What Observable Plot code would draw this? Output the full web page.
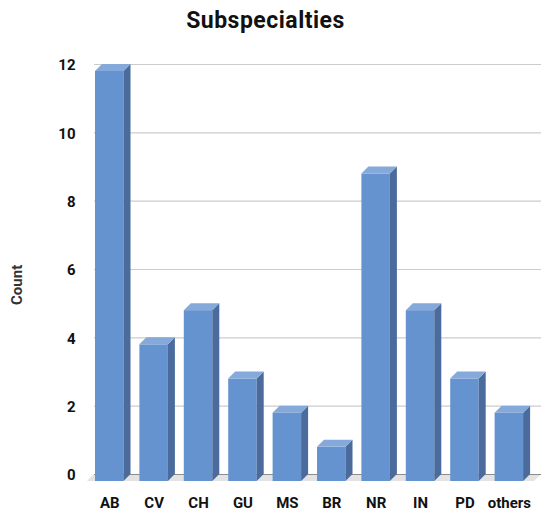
<!DOCTYPE html>
<html><head><meta charset="utf-8">
<script src="https://cdn.jsdelivr.net/npm/d3@7"></script>
<script src="https://cdn.jsdelivr.net/npm/@observablehq/plot@0.6"></script>
<style>
body{margin:0;background:#fff;font-family:Roboto,sans-serif;}
#title{height:40px;line-height:42px;width:531px;text-align:center;font-weight:bold;font-size:23px;letter-spacing:0.5px;color:#111;}
</style></head><body>
<div id="title">Subspecialties</div>
<div id="chart"></div>
<script>
const categories = ["AB","CV","CH","GU","MS","BR","NR","IN","PD","others"];
const counts = [12,4,5,3,2,1,9,5,3,2];
const yTicks = [0,2,4,6,8,10,12];

const W = 541, H = 474, mL = 87, mR = 0, mT = 24, mB = 40;
const step = 44.4;                 // px per category
const firstBarPx = 95;             // front-left edge of first bar
const xDomain = [-(firstBarPx - mL) / step, (W - mR - firstBarPx) / step];
const pxPerY = (H - mT - mB) / 12;
const bw = 28.5 / step;            // bar front width (x units)
const ddx = 7 / step;              // depth offset in x units
const ddy = 7 / pxPerY;            // depth offset in y units

const bars = categories.map((c, i) => ({c, v: counts[i], x1: i, x2: i + bw, i}));
const sides = bars.flatMap(b => [
  {i: b.i, x: b.x2, y1: -ddy, y2: b.v - ddy},
  {i: b.i, x: b.x2 + ddx, y1: 0, y2: b.v}
]);
const tops = bars.flatMap(b => [
  {i: b.i, y: b.v - ddy, x1: b.x1, x2: b.x2},
  {i: b.i, y: b.v, x1: b.x1 + ddx, x2: b.x2 + ddx}
]);
const floorPts = [
  {y: -ddy, x1: xDomain[0], x2: xDomain[1] - ddx},
  {y: 0, x1: xDomain[0] + ddx, x2: xDomain[1]}
];

const frontColor = "#6593d0", sideColor = "#4a6b9c", topColor = "#84a9da";
const labelY = 5.55; // vertical placement of the "Count" label, in data units

const chart = Plot.plot({
  width: W, height: H,
  marginLeft: mL, marginRight: mR, marginTop: mT, marginBottom: mB,
  style: {fontFamily: "Roboto, sans-serif", background: "#fff"},
  x: {domain: xDomain, axis: null},
  y: {domain: [0, 12], axis: null},
  marks: [
    Plot.areaX(floorPts, {y: "y", x1: "x1", x2: "x2", fill: "#e3e3e3"}),
    Plot.ruleY(yTicks.filter(t => t > 0), {x1: () => xDomain[0] + ddx, x2: () => xDomain[1], stroke: "#cccccc", strokeWidth: 1.2}),
    Plot.ruleY([0], {x1: () => xDomain[0] + ddx, x2: () => xDomain[1], stroke: "#8c8c8c", strokeWidth: 1.2}),
    Plot.axisY(yTicks, {anchor: "left", tickSize: 0, tickPadding: 12, dy: 1, fontSize: 15, fontWeight: "bold", fill: "#111", label: null}),
    Plot.rectY(bars, {x1: "x1", x2: "x2", y1: () => -ddy, y2: d => d.v - ddy, fill: frontColor}),
    Plot.areaY(sides, {x: "x", y1: "y1", y2: "y2", z: "i", fill: sideColor}),
    Plot.areaX(tops, {y: "y", x1: "x1", x2: "x2", z: "i", fill: topColor}),
    Plot.text(bars, {x: d => d.x1 + bw / 2, frameAnchor: "bottom", dy: 33, text: "c", fontSize: 15, fontWeight: "bold", fill: "#111"}),
    Plot.text(["Count"], {frameAnchor: "left", y: () => labelY, dx: -70, rotate: -90, textAnchor: "middle", lineAnchor: "middle", fontSize: 15, fontWeight: "bold", fill: "#333"})
  ]
});
document.getElementById("chart").appendChild(chart);
</script>
</body></html>
